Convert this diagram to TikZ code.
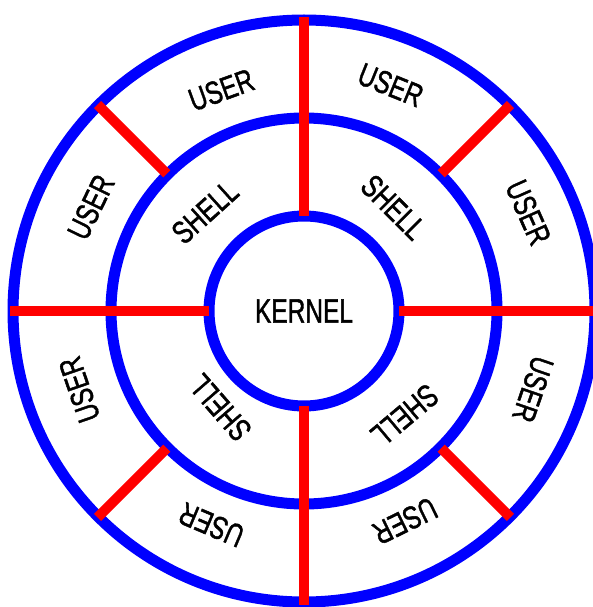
\documentclass[tikz,border=0pt]{standalone}
\usepackage{fontspec}
\setmainfont{Liberation Sans}
\newfontfamily\lblfont[FakeBold=1.5]{Liberation Sans}
\definecolor{ringblue}{RGB}{0,0,255}
\definecolor{spokered}{RGB}{255,0,0}
\begin{document}
\begin{tikzpicture}[
  ring/.style={draw=ringblue,line width=11pt},
  spoke/.style={draw=spokered,line width=10pt},
  lbl/.style={inner sep=0pt,font=\lblfont\fontsize{32}{32}\selectfont},
  klbl/.style={inner sep=0pt,font=\lblfont\fontsize{34}{34}\selectfont},
]
\useasboundingbox (0pt,0pt) rectangle (593pt,-607pt);
\coordinate (c) at (304pt,-311pt);
% rings
\draw[ring] (c) circle[radius=291pt];
\draw[ring] (c) circle[radius=193pt];
\draw[ring] (c) circle[radius=95pt];
% main spokes (kernel to outer ring)
\foreach \a in {0,90,180,270}
  \draw[spoke] ([shift={(c)}]\a:95pt) -- ([shift={(c)}]\a:294pt);
% diagonal spokes (shell ring to outer ring)
\foreach \a in {45,135,225,315}
  \draw[spoke] ([shift={(c)}]\a:194pt) -- ([shift={(c)}]\a:292pt);
% labels
\node[klbl] (kernel) at (c) {\scalebox{0.72}[1]{KERNEL}};
\node[lbl,rotate=20]   (u1) at ([shift={(c)}]110.5:236pt) {\scalebox{0.75}[1]{USER}};
\node[lbl,rotate=-22]  (u2) at ([shift={(c)}]69:242pt)    {\scalebox{0.75}[1]{USER}};
\node[lbl,rotate=64]   (u3) at ([shift={(c)}]154:237pt)   {\scalebox{0.75}[1]{USER}};
\node[lbl,rotate=-66]  (u4) at ([shift={(c)}]23.7:245pt)  {\scalebox{0.75}[1]{USER}};
\node[lbl,rotate=109]  (u5) at ([shift={(c)}]199.3:238pt) {\scalebox{0.75}[1]{USER}};
\node[lbl,rotate=-109] (u6) at ([shift={(c)}]-18.9:242pt) {\scalebox{0.75}[1]{USER}};
\node[lbl,rotate=157]  (u7) at ([shift={(c)}]246.6:233pt) {\scalebox{0.75}[1]{USER}};
\node[lbl,rotate=-154] (u8) at ([shift={(c)}]-64.3:233pt) {\scalebox{0.75}[1]{USER}};
\node[lbl,rotate=42]   (s1) at ([shift={(c)}]135:140pt)   {\scalebox{0.75}[1]{SHELL}};
\node[lbl,rotate=-45]  (s2) at ([shift={(c)}]49.2:137pt)  {\scalebox{0.75}[1]{SHELL}};
\node[lbl,rotate=131]  (s3) at ([shift={(c)}]229:128pt)   {\scalebox{0.75}[1]{SHELL}};
\node[lbl,rotate=-140] (s4) at ([shift={(c)}]-46:145pt)   {\scalebox{0.75}[1]{SHELL}};
\end{tikzpicture}
\end{document}
